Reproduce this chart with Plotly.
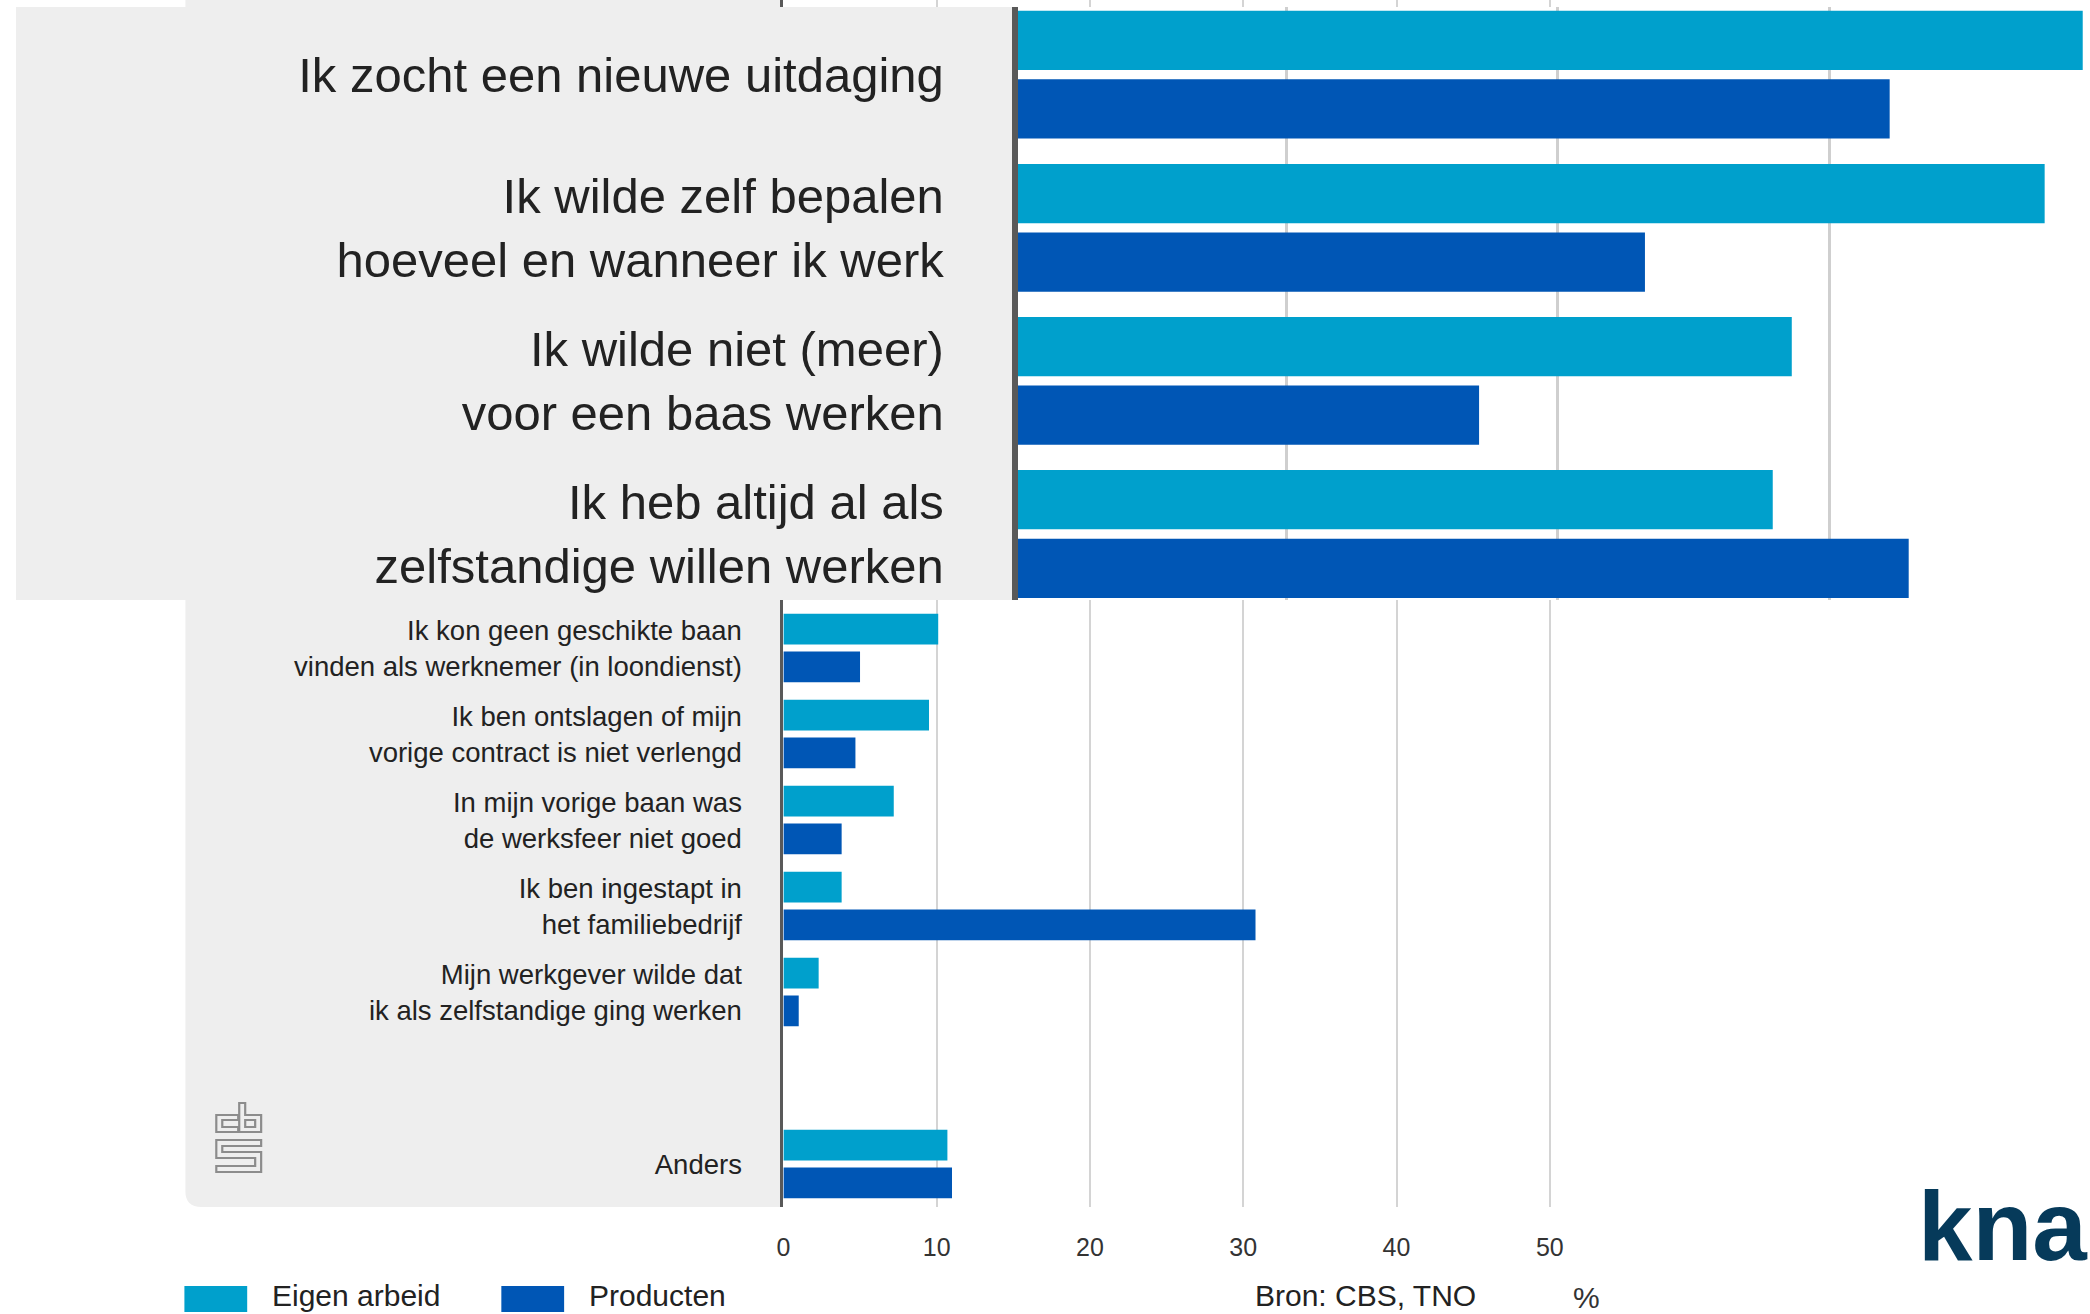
import plotly.graph_objects as go

# ---------------- data ----------------
top_categories = [
    "Ik zocht een nieuwe uitdaging",
    "Ik wilde zelf bepalen<br>hoeveel en wanneer ik werk",
    "Ik wilde niet (meer)<br>voor een baas werken",
    "Ik heb altijd al als<br>zelfstandige willen werken",
]
top_eigen = [39.3, 37.9, 28.6, 27.9]
top_producten = [32.2, 23.2, 17.1, 32.9]

other_categories = [
    "Ik kon geen geschikte baan<br>vinden als werknemer (in loondienst)",
    "Ik ben ontslagen of mijn<br>vorige contract is niet verlengd",
    "In mijn vorige baan was<br>de werksfeer niet goed",
    "Ik ben ingestapt in<br>het familiebedrijf",
    "Mijn werkgever wilde dat<br>ik als zelfstandige ging werken",
    " ",
    "Anders",
]
other_eigen = [10.1, 9.5, 7.2, 3.8, 2.3, None, 10.7]
other_producten = [5.0, 4.7, 3.8, 30.8, 1.0, None, 11.0]

x_ticks = [0, 10, 20, 30, 40, 50]
zoom_ticks = [10, 20, 30]
series_names = ["Eigen arbeid", "Producten"]
source_text = "Bron: CBS, TNO"
unit_text = "%"
brand_text = "knab"

all_categories = top_categories + other_categories
all_eigen = top_eigen + other_eigen
all_producten = top_producten + other_producten
# labels of the underlying chart that stay visible (the top four are covered by the magnified panel)
visible_labels = [c for c in other_categories if c.strip()]

# ---------------- styling ----------------
W, H = 2090, 1314
C_EIGEN = "#00a0cc"
C_PROD = "#0056b5"
FONT = "Liberation Sans, Arial, sans-serif"
TXT = "#222222"


def fx(px):
    return px / W


def fy(py):
    return 1 - py / H


fig = go.Figure()

# main (underlying) chart
fig.add_trace(go.Bar(x=all_eigen, y=all_categories, orientation="h", name=series_names[0],
                     marker=dict(color=C_EIGEN, line=dict(width=0)), width=0.358, offset=-0.3985,
                     xaxis="x", yaxis="y", showlegend=False))
fig.add_trace(go.Bar(x=all_producten, y=all_categories, orientation="h", name=series_names[1],
                     marker=dict(color=C_PROD, line=dict(width=0)), width=0.358, offset=0.0405,
                     xaxis="x", yaxis="y", showlegend=False))

# magnified overlay of the top four reasons
fig.add_trace(go.Bar(x=top_eigen, y=top_categories, orientation="h", name=series_names[0],
                     marker=dict(color=C_EIGEN, line=dict(width=0)), width=0.387, offset=-0.4175,
                     xaxis="x2", yaxis="y2", showlegend=False))
fig.add_trace(go.Bar(x=top_producten, y=top_categories, orientation="h", name=series_names[1],
                     marker=dict(color=C_PROD, line=dict(width=0)), width=0.387, offset=0.0305,
                     xaxis="x2", yaxis="y2", showlegend=False))

n_all = len(all_categories)
bottom_px = 1207
cat_px = 86.0
y_top_idx = (n_all - 0.5) - bottom_px / cat_px

zoom_x0_px = 1011
zoom_unit = 27.27
zoom_min = -(zoom_x0_px - 10) / zoom_unit
zoom_max = (W - zoom_x0_px) / zoom_unit
zoom_cat_px = 153.1
zoom_c0 = 74.7
zoom_top_px, zoom_bot_px = 7, 600
zr_top = -(zoom_c0 - zoom_top_px) / zoom_cat_px
zr_bot = (zoom_bot_px - zoom_c0) / zoom_cat_px

main_unit = 15.38
main_max = 55

fig.update_layout(
    width=W, height=H, autosize=False,
    margin=dict(l=0, r=0, t=0, b=0),
    paper_bgcolor="white", plot_bgcolor="white",
    font=dict(family=FONT, color=TXT),
    barmode="overlay",
    showlegend=False,
    hovermode=False,
    xaxis=dict(domain=[fx(779), fx(779 + main_max * main_unit)], range=[0, main_max],
               tickvals=x_ticks, showgrid=True, gridcolor="#d4d4d4", gridwidth=1.5,
               zeroline=False, showline=False, ticks="outside", ticklen=18,
               tickcolor="rgba(0,0,0,0)", tickfont=dict(size=25, color="#333333"), anchor="y"),
    yaxis=dict(domain=[fy(bottom_px), 1], type="category", categoryorder="array",
               categoryarray=all_categories, range=[n_all - 0.5, y_top_idx],
               tickmode="array", tickvals=visible_labels, ticktext=visible_labels,
               showline=True, linecolor="#595959", linewidth=3, ticks="outside", ticklen=33,
               tickcolor="rgba(0,0,0,0)", tickfont=dict(size=27.5, color=TXT),
               showgrid=False, zeroline=False, anchor="x"),
    xaxis2=dict(domain=[fx(9), 1], range=[zoom_min, zoom_max], tickvals=zoom_ticks,
                showticklabels=False, showgrid=True, gridcolor="#cfcfcf", gridwidth=2.5,
                zeroline=False, showline=False, anchor="y2"),
    yaxis2=dict(domain=[fy(zoom_bot_px), fy(zoom_top_px)], type="category", categoryorder="array",
                categoryarray=top_categories, range=[zr_bot, zr_top],
                anchor="free", position=fx(zoom_x0_px), side="left",
                showline=True, linecolor="#595959", linewidth=6, ticks="outside", ticklen=58,
                tickcolor="rgba(0,0,0,0)", tickfont=dict(size=49, color=TXT),
                showgrid=False, zeroline=False),
)

shapes = []
# grey label panel of the underlying chart (rounded bottom-left corner)
r = 16
p = (f"M {fx(778)},{fy(0)} L {fx(179)},{fy(0)} L {fx(179)},{fy(bottom_px - r)} "
     f"Q {fx(179)},{fy(bottom_px)} {fx(179 + r)},{fy(bottom_px)} L {fx(778)},{fy(bottom_px)} Z")
shapes.append(dict(type="path", path=p, xref="paper", yref="paper", fillcolor="#eeeeee",
                   line=dict(width=0), layer="below"))
# grey label panel of the magnified overlay (inside overlay subplot)
shapes.append(dict(type="rect", xref="x2", yref="y2", x0=zoom_min - 5, x1=0,
                   y0=zr_top - 1, y1=zr_bot + 1, fillcolor="#eeeeee", line=dict(width=0),
                   layer="below"))
# legend swatches
shapes.append(dict(type="rect", xref="paper", yref="paper", x0=fx(178), x1=fx(241),
                   y0=fy(1312), y1=fy(1286), fillcolor=C_EIGEN, line=dict(width=0), layer="above"))
shapes.append(dict(type="rect", xref="paper", yref="paper", x0=fx(496), x1=fx(559),
                   y0=fy(1312), y1=fy(1286), fillcolor=C_PROD, line=dict(width=0), layer="above"))


# CBS logo outline
def pth(pts):
    return "M " + " L ".join(f"{fx(a)},{fy(b)}" for a, b in pts) + " Z"


logo_paths = [
    [(232, 1115), (210, 1115), (210, 1132), (232, 1132), (232, 1127), (216, 1127), (216, 1120), (232, 1120)],
    [(233, 1103), (239, 1103), (239, 1115), (255, 1115), (255, 1132), (233, 1132)],
    [(239, 1120), (249, 1120), (249, 1127), (239, 1127)],
    [(210, 1140), (255, 1140), (255, 1146), (216, 1146), (216, 1152), (255, 1152), (255, 1172),
     (210, 1172), (210, 1166), (249, 1166), (249, 1158), (210, 1158)],
]
for lp in logo_paths:
    shapes.append(dict(type="path", path=pth(lp), xref="paper", yref="paper",
                       line=dict(color="#8c8c8c", width=2.2), fillcolor="rgba(0,0,0,0)", layer="above"))

fig.update_layout(shapes=shapes)

annotations = [
    dict(text=series_names[0], x=fx(265), y=fy(1313), xanchor="left", yanchor="bottom",
         font=dict(size=30, color=TXT)),
    dict(text=series_names[1], x=fx(583), y=fy(1313), xanchor="left", yanchor="bottom",
         font=dict(size=30, color=TXT)),
    dict(text=source_text, x=fx(1251), y=fy(1313), xanchor="left", yanchor="bottom",
         font=dict(size=30, color=TXT)),
    dict(text=unit_text, x=fx(1585), y=fy(1315), xanchor="center", yanchor="bottom",
         font=dict(size=30, color="#333333")),
    dict(text="<b>" + brand_text + "</b>", x=fx(1916), y=fy(1226), xanchor="left", yanchor="middle",
         font=dict(size=98, color="#063a5a")),
]
for a in annotations:
    a.update(xref="paper", yref="paper", showarrow=False, borderpad=0)
fig.update_layout(annotations=annotations)

fig.write_html("out.html", config={"displayModeBar": False},
               post_script="document.body.style.margin='0';document.body.style.overflow='hidden';")
